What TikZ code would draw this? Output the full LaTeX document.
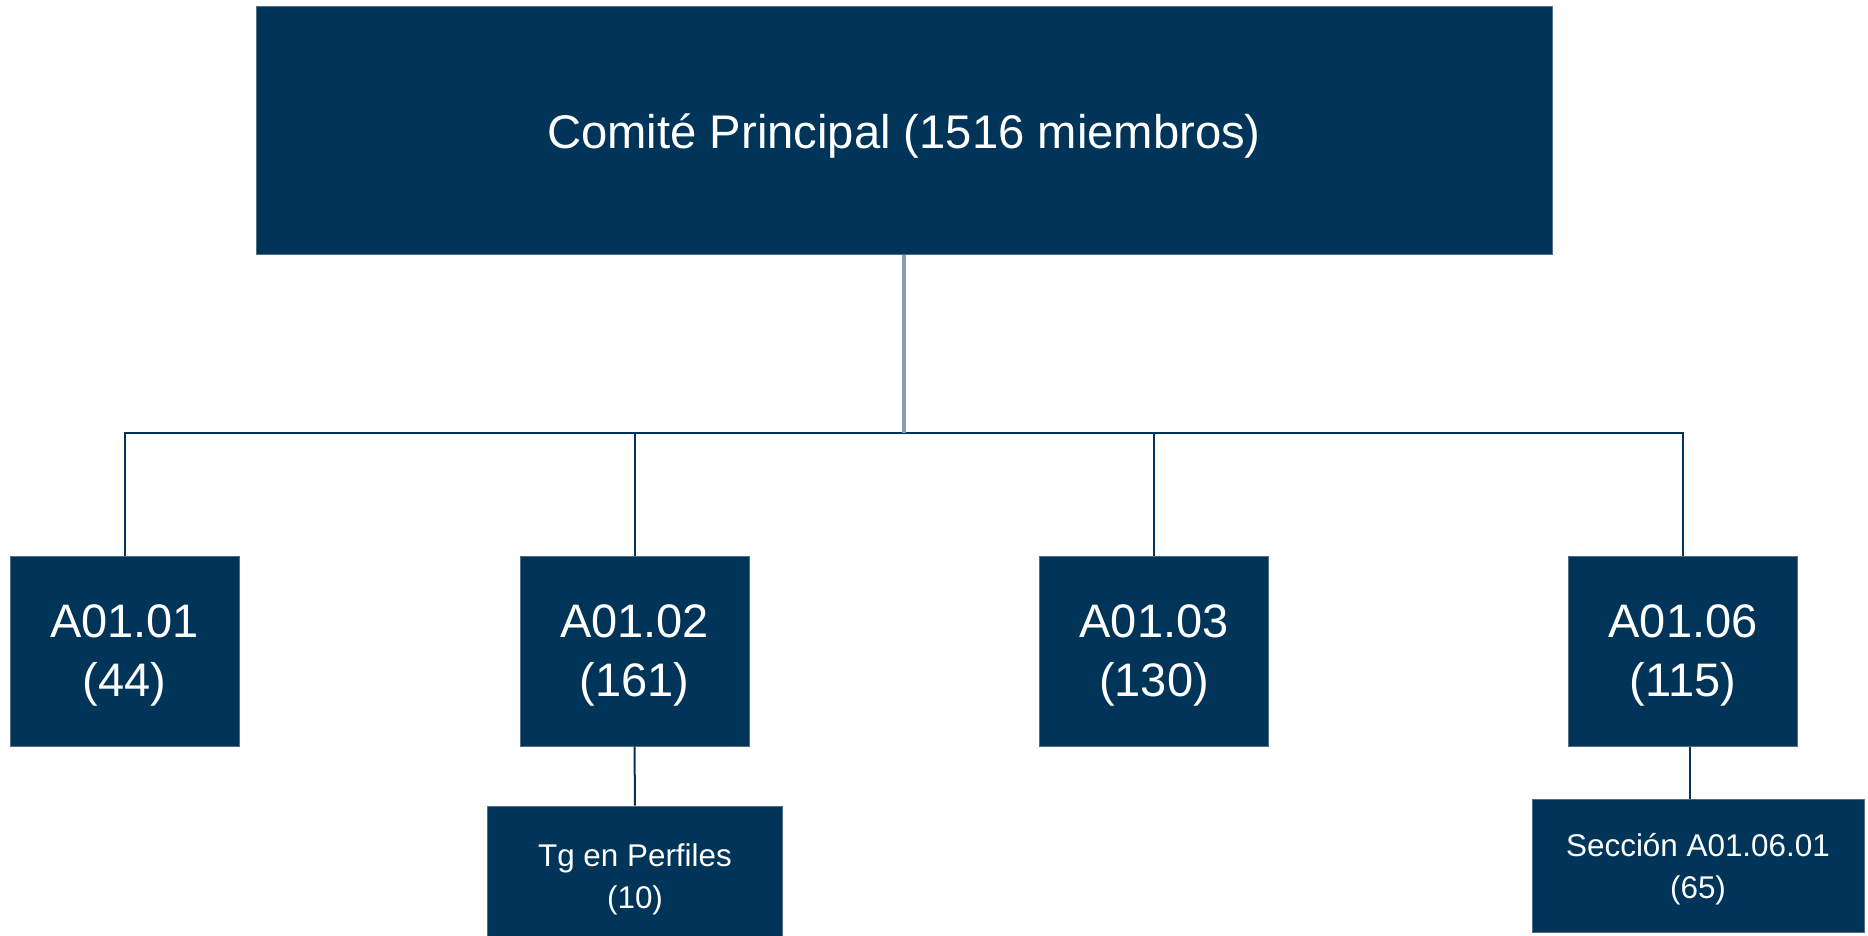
\documentclass[tikz,border=0pt]{standalone}
\usepackage{fontspec}
\setmainfont{Liberation Sans}
\definecolor{navy}{RGB}{0,53,89}
\definecolor{edge}{RGB}{80,108,135}
\definecolor{stem}{RGB}{130,159,182}
\tikzset{
	box/.style={draw=edge, line width=0.5pt, fill=navy, text=white, align=center, inner sep=0pt, text depth=0pt},
	bigbox/.style={box, minimum width=229*0.5pt, minimum height=190*0.5pt, font=\fontsize{23.5}{29.5}\selectfont},
	smallbox/.style={box, font=\fontsize{15.7}{21}\selectfont},
	link/.style={draw=navy, line width=1pt}
}
\begin{document}
\begin{tikzpicture}[x=0.5pt,y=-0.5pt]
			\useasboundingbox (0,0) rectangle (1868,936);
			\node[box, minimum width=1296*0.5pt, minimum height=248*0.5pt, font=\fontsize{23.6}{30}\selectfont] (top) at (904,131) {Comité Principal (1516 miembros)};
			\node[bigbox] (a0101) at (124.5,651) {A01.01\\(44)};
			\node[bigbox] (a0102) at (634.5,651) {A01.02\\(161)};
			\node[bigbox] (a0103) at (1154,651) {A01.03\\(130)};
			\node[bigbox] (a0106) at (1683,651) {A01.06\\(115)};
			\node[smallbox, minimum width=295*0.5pt, minimum height=140*0.5pt] (tg) at (635,876) {Tg en Perfiles\\(10)};
			\node[smallbox, minimum width=332*0.5pt, minimum height=133*0.5pt] (sec) at (1698,865.5) {Sección A01.06.01\\(65)};
			\coordinate (hub) at (904,433);
			\foreach \b in {a0101,a0102,a0103,a0106}
				\draw[link] (\b.north) |- (hub);
			\draw[stem, line width=2pt] (top.south) -- (hub);
			\draw[link] (a0102.south) -- (tg.north);
			\draw[link] ([xshift=3.5pt]a0106.south) -- ([xshift=3.5pt]a0106.south |- sec.north);
		\end{tikzpicture}
\end{document}
